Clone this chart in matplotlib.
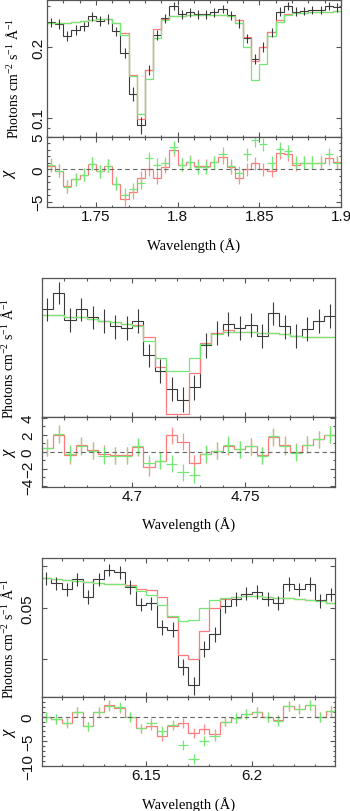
import numpy as np
import matplotlib
matplotlib.use("Agg")
import matplotlib.pyplot as plt
from matplotlib.ticker import (FixedFormatter, FixedLocator, FuncFormatter,
                               MultipleLocator, NullFormatter)

plt.rcParams["font.family"] = ["Liberation Sans", "DejaVu Sans"]
plt.rcParams["mathtext.fontset"] = "custom"
plt.rcParams["mathtext.rm"] = "Liberation Serif"
plt.rcParams["mathtext.it"] = "Liberation Serif:italic"

FRAME = "#555555"
DATA = "#3a3a3a"
RED = "#ff7a7a"
GREEN = "#74e874"
FW, FH = 350, 812

# ---- panel 1 : 1.72 - 1.90 A, 0.005 A bins
edges1 = np.linspace(1.72, 1.90, 37)
data1 = [0.256, 0.252, 0.224, 0.238, 0.246, 0.272, 0.260, 0.265, 0.234, 0.190,
         0.126, 0.0927, 0.160, 0.226, 0.267, 0.302, 0.278, 0.283, 0.278, 0.278,
         0.283, 0.292, 0.275, 0.254, 0.219, 0.179, 0.201, 0.232, 0.285, 0.302,
         0.285, 0.287, 0.290, 0.290, 0.302, 0.297]
err1 = [0.012, 0.012, 0.011, 0.012, 0.012, 0.012, 0.012, 0.012, 0.011, 0.0095,
        0.0086, 0.0079, 0.008, 0.011, 0.012, 0.012, 0.012, 0.012, 0.012, 0.012,
        0.012, 0.012, 0.012, 0.011, 0.010, 0.009, 0.009, 0.010, 0.012, 0.012,
        0.012, 0.012, 0.012, 0.012, 0.012, 0.012]
red1 = [0.254, 0.254, 0.255, 0.256, 0.259, 0.263, 0.265, 0.265, 0.254, 0.230,
        0.152, 0.0983, 0.160, 0.240, 0.266, 0.272, 0.274, 0.275, 0.276, 0.276,
        0.276, 0.276, 0.274, 0.263, 0.221, 0.175, 0.201, 0.232, 0.263, 0.278,
        0.280, 0.281, 0.283, 0.284, 0.285, 0.286]
green1 = [0.254, 0.254, 0.255, 0.256, 0.259, 0.263, 0.265, 0.265, 0.254, 0.226,
          0.150, 0.104, 0.146, 0.219, 0.263, 0.272, 0.274, 0.275, 0.276, 0.276,
          0.276, 0.276, 0.274, 0.254, 0.200, 0.145, 0.170, 0.223, 0.256, 0.275,
          0.280, 0.281, 0.283, 0.284, 0.285, 0.286]
chi_red1 = [0.6, -0.2, -2.6, -1.5, -0.85, 0.85, -0.3, 0.6, -2.2, -4.6,
            -3.5, -1.3, 0.0, -1.3, 0.4, 3.0, 0.75, 1.2, 0.6, 0.6,
            1.1, 1.9, 0.3, -1.3, 0.05, 0.95, 0.05, -0.2, 2.6, 2.3,
            0.75, 1.0, 1.0, 1.0, 1.75, 1.1]
chi_green1 = [0.75, -0.2, -2.7, -1.5, -0.85, 0.85, -0.3, 0.6, -2.2, -3.9,
              -3.1, -2.1, 1.75, 0.75, 0.95, 3.4, 0.75, 1.1, 0.3, 0.3,
              1.1, 2.4, 0.6, -0.5, 2.3, 4.5, 3.9, 1.0, 3.2, 2.8,
              1.0, 1.0, 1.0, 1.0, 2.3, 1.0]

# ---- panel 2 : 4.66 - 4.79 A
edges2 = np.linspace(4.66, 4.79, 27)
data2 = [0.0375, 0.0388, 0.0367, 0.0375, 0.0369, 0.0366, 0.0362, 0.0361, 0.0366, 0.0341,
         0.0330, 0.0318, 0.0311, 0.0319, 0.0348, 0.0357, 0.0364, 0.0361, 0.0363, 0.0355,
         0.0372, 0.0362, 0.0355, 0.0360, 0.0366, 0.0370]
err2 = [0.0009, 0.0009, 0.0009, 0.0009, 0.0009, 0.0009, 0.0009, 0.0009, 0.0009, 0.0008,
        0.0008, 0.0008, 0.0008, 0.0008, 0.0009, 0.0009, 0.0009, 0.0009, 0.0009, 0.0009,
        0.0009, 0.0009, 0.0009, 0.0009, 0.0009, 0.0009]
red2 = [0.0371, 0.0371, 0.0369, 0.0369, 0.0368, 0.0366, 0.0365, 0.0364, 0.0363, 0.0354,
        0.0333, 0.0302, 0.0302, 0.0329, 0.0350, 0.0357, 0.0359, 0.0358, 0.0358, 0.0357,
        0.0357, 0.0356, 0.0355, 0.0354, 0.0354, 0.0354]
green2 = [0.0371, 0.0371, 0.0369, 0.0369, 0.0368, 0.0366, 0.0365, 0.0364, 0.0362, 0.0351,
          0.0339, 0.0330, 0.0330, 0.0339, 0.0349, 0.0356, 0.0358, 0.0358, 0.0358, 0.0357,
          0.0357, 0.0356, 0.0355, 0.0354, 0.0354, 0.0354]
chi_red2 = [0.47, 2.0, -0.4, 0.75, 0.2, -0.25, -0.43, -0.43, 0.55, -1.84,
            -1.06, 1.96, 1.18, -1.33, -0.3, 0.1, 0.65, 0.27, 0.65, -0.4,
            1.7, 0.8, 0.0, 0.8, 1.45, 2.0]
chi_green2 = [0.47, 2.1, -0.25, 0.65, 0.1, -0.45, -0.45, -0.45, 0.65, -1.37,
              -1.06, -1.4, -2.4, -2.7, -0.25, 0.1, 0.8, 0.3, 0.65, -0.45,
              1.85, 0.65, -0.1, 0.8, 1.45, 2.0]

# ---- panel 3 : 6.10 - 6.24 A
edges3 = np.linspace(6.10, 6.24, 29)
data3 = [0.0569, 0.0556, 0.0542, 0.0566, 0.0525, 0.0566, 0.0590, 0.0584, 0.0548, 0.0507,
         0.0510, 0.0459, 0.0454, 0.0386, 0.0356, 0.0418, 0.0445, 0.0504, 0.0519, 0.0532,
         0.0536, 0.0519, 0.0511, 0.0555, 0.0542, 0.0555, 0.0516, 0.0530]
err3 = [0.0016, 0.0016, 0.0016, 0.0016, 0.0016, 0.0016, 0.0016, 0.0016, 0.0016, 0.0015,
        0.0015, 0.0015, 0.0015, 0.0014, 0.0014, 0.0015, 0.0015, 0.0016, 0.0016, 0.0016,
        0.0016, 0.0016, 0.0016, 0.0016, 0.0016, 0.0016, 0.0016, 0.0016]
red3 = [0.0569, 0.0566, 0.0564, 0.0562, 0.0560, 0.0558, 0.0555, 0.0554, 0.0552, 0.0543,
        0.0540, 0.0525, 0.0480, 0.0407, 0.0400, 0.0451, 0.0499, 0.0519, 0.0525, 0.0526,
        0.0526, 0.0525, 0.0522, 0.0522, 0.0519, 0.0517, 0.0515, 0.0511]
green3 = [0.0569, 0.0566, 0.0564, 0.0562, 0.0560, 0.0558, 0.0555, 0.0554, 0.0550, 0.0539,
          0.0528, 0.0507, 0.0483, 0.0471, 0.0474, 0.0499, 0.0517, 0.0522, 0.0525, 0.0526,
          0.0526, 0.0525, 0.0522, 0.0522, 0.0519, 0.0517, 0.0515, 0.0511]
chi_red3 = [0.0, -0.5, -1.2, 0.9, -2.0, 0.9, 2.4, 1.8, -0.15, -2.4,
            -1.8, -4.0, -1.8, -1.3, -3.3, -2.5, -3.5, -1.0, -0.35, 0.55,
            0.9, -0.15, -0.7, 2.2, 1.55, 2.4, 0.0, 1.1]
chi_green3 = [0.0, -0.5, -1.3, 0.9, -2.0, 0.9, 2.2, 1.9, -0.1, -2.4,
              -1.2, -2.9, -1.6, -5.7, -8.6, -4.9, -4.0, -1.0, -0.35, 0.55,
              0.9, -0.15, -0.8, 2.2, 1.55, 2.4, 0.0, 1.1]


def wave_label(v, pos):
    return f"{v:.2f}".rstrip("0").rstrip(".")


def add_axes(fig, x0, x1, y0, y1):
    # pixel box -> figure fraction
    return fig.add_axes([x0 / FW, 1 - y1 / FH, (x1 - x0) / FW, (y1 - y0) / FH])


def style(ax, ypad):
    ax.tick_params(which="both", direction="in", top=True, right=True,
                   color=FRAME, labelcolor="#111111", labelsize=11)
    ax.tick_params(which="major", length=3.6, width=0.8)
    ax.tick_params(which="minor", length=1.8, width=0.8)
    ax.tick_params(axis="y", labelrotation=90, pad=ypad)
    ax.tick_params(axis="x", pad=1.5)
    ax.xaxis.set_major_locator(MultipleLocator(0.05))
    ax.xaxis.set_minor_locator(MultipleLocator(0.01))
    ax.xaxis.set_major_formatter(FuncFormatter(wave_label))
    for s in ax.spines.values():
        s.set_color(FRAME)
        s.set_linewidth(0.9)


def draw_panel(fig, xs, top_ys, res_ys, edges, xlim, data, err, red, green, chi_red,
               chi_green, flux_lim, flux_ticks, flux_labels, flux_minor, chi_lim,
               chi_step, ypad):
    centers = 0.5 * (edges[:-1] + edges[1:])
    half = 0.5 * np.diff(edges)
    data = np.asarray(data)
    err = np.asarray(err)
    chi_red = np.asarray(chi_red)

    ax = add_axes(fig, xs[0], xs[1], *top_ys)
    ax.set_yscale("log")
    ax.stairs(data, edges, baseline=None, color=DATA, lw=0.8)
    ax.vlines(centers, data - err, data + err, color=DATA, lw=0.8)
    ax.stairs(red, edges, baseline=None, color=RED, lw=0.9)
    ax.stairs(green, edges, baseline=None, color=GREEN, lw=0.9)
    ax.set_xlim(*xlim)
    ax.set_ylim(*flux_lim)
    style(ax, ypad)
    ax.yaxis.set_major_locator(FixedLocator(flux_ticks))
    ax.yaxis.set_major_formatter(FixedFormatter(flux_labels))
    ax.yaxis.set_minor_locator(FixedLocator(flux_minor))
    ax.yaxis.set_minor_formatter(NullFormatter())
    ax.tick_params(axis="x", labelbottom=False)
    plt.setp(ax.get_yticklabels(), va="center")
    ax.set_ylabel(r"Photons cm$^{-2}$ s$^{-1}$ Å$^{-1}$", fontfamily="Liberation Serif",
                  fontsize=10, va="center", ha="center")
    ax.yaxis.set_label_coords(-0.115, 0.43)

    rx = add_axes(fig, xs[0], xs[1], *res_ys)
    rx.stairs(chi_red, edges, baseline=None, color=RED, lw=0.9)
    rx.vlines(centers, chi_red - 1, chi_red + 1, color=RED, lw=0.9, alpha=0.85)
    rx.errorbar(centers, chi_green, xerr=half, yerr=1, fmt="none", ecolor=GREEN,
                elinewidth=0.9)
    rx.axhline(0, color="#666666", lw=0.8, ls=(0, (4, 3)))
    rx.set_xlim(*xlim)
    rx.set_ylim(*chi_lim)
    style(rx, ypad)
    rx.yaxis.set_major_locator(MultipleLocator(chi_step))
    rx.yaxis.set_minor_locator(MultipleLocator(1))
    plt.setp(rx.get_yticklabels(), va="center")
    rx.set_ylabel(r"$\chi$", fontsize=12, va="center", ha="center")
    rx.yaxis.set_label_coords((10 - xs[0]) / (xs[1] - xs[0]), 0.5)
    rx.set_xlabel("Wavelength (Å)", fontfamily="Liberation Serif", fontsize=10.5,
                  va="center")
    rx.xaxis.set_label_coords(0.5, -37.5 / (res_ys[1] - res_ys[0]))


fig = plt.figure(figsize=(FW / 100, FH / 100), dpi=100)

draw_panel(fig, (47, 341), (0.5, 138), (138, 208.3), edges1, (1.72, 1.90),
           data1, err1, red1, green1, chi_red1, chi_green1,
           (0.0825, 0.321), [0.1, 0.2], ["0.1", "0.2"], [0.09, 0.3],
           (-5.85, 5.0), 5, 1.0)
draw_panel(fig, (41.7, 335), (279.3, 418), (418, 487.5), edges2, (4.66, 4.7897),
           data2, err2, red2, green2, chi_red2, chi_green2,
           (0.030, 0.040), [], [], [], (-4.1, 4.1), 2, 5.0)
draw_panel(fig, (41.7, 335), (559.3, 698), (698, 767.3), edges3, (6.1006, 6.2394),
           data3, err3, red3, green3, chi_red3, chi_green3,
           (0.03384, 0.06205), [0.04, 0.05, 0.06], ["", "0.05", ""], [],
           (-10.1, 4.0), 5, 5.0)

fig.savefig("out.png", dpi=100)
plt.close(fig)
